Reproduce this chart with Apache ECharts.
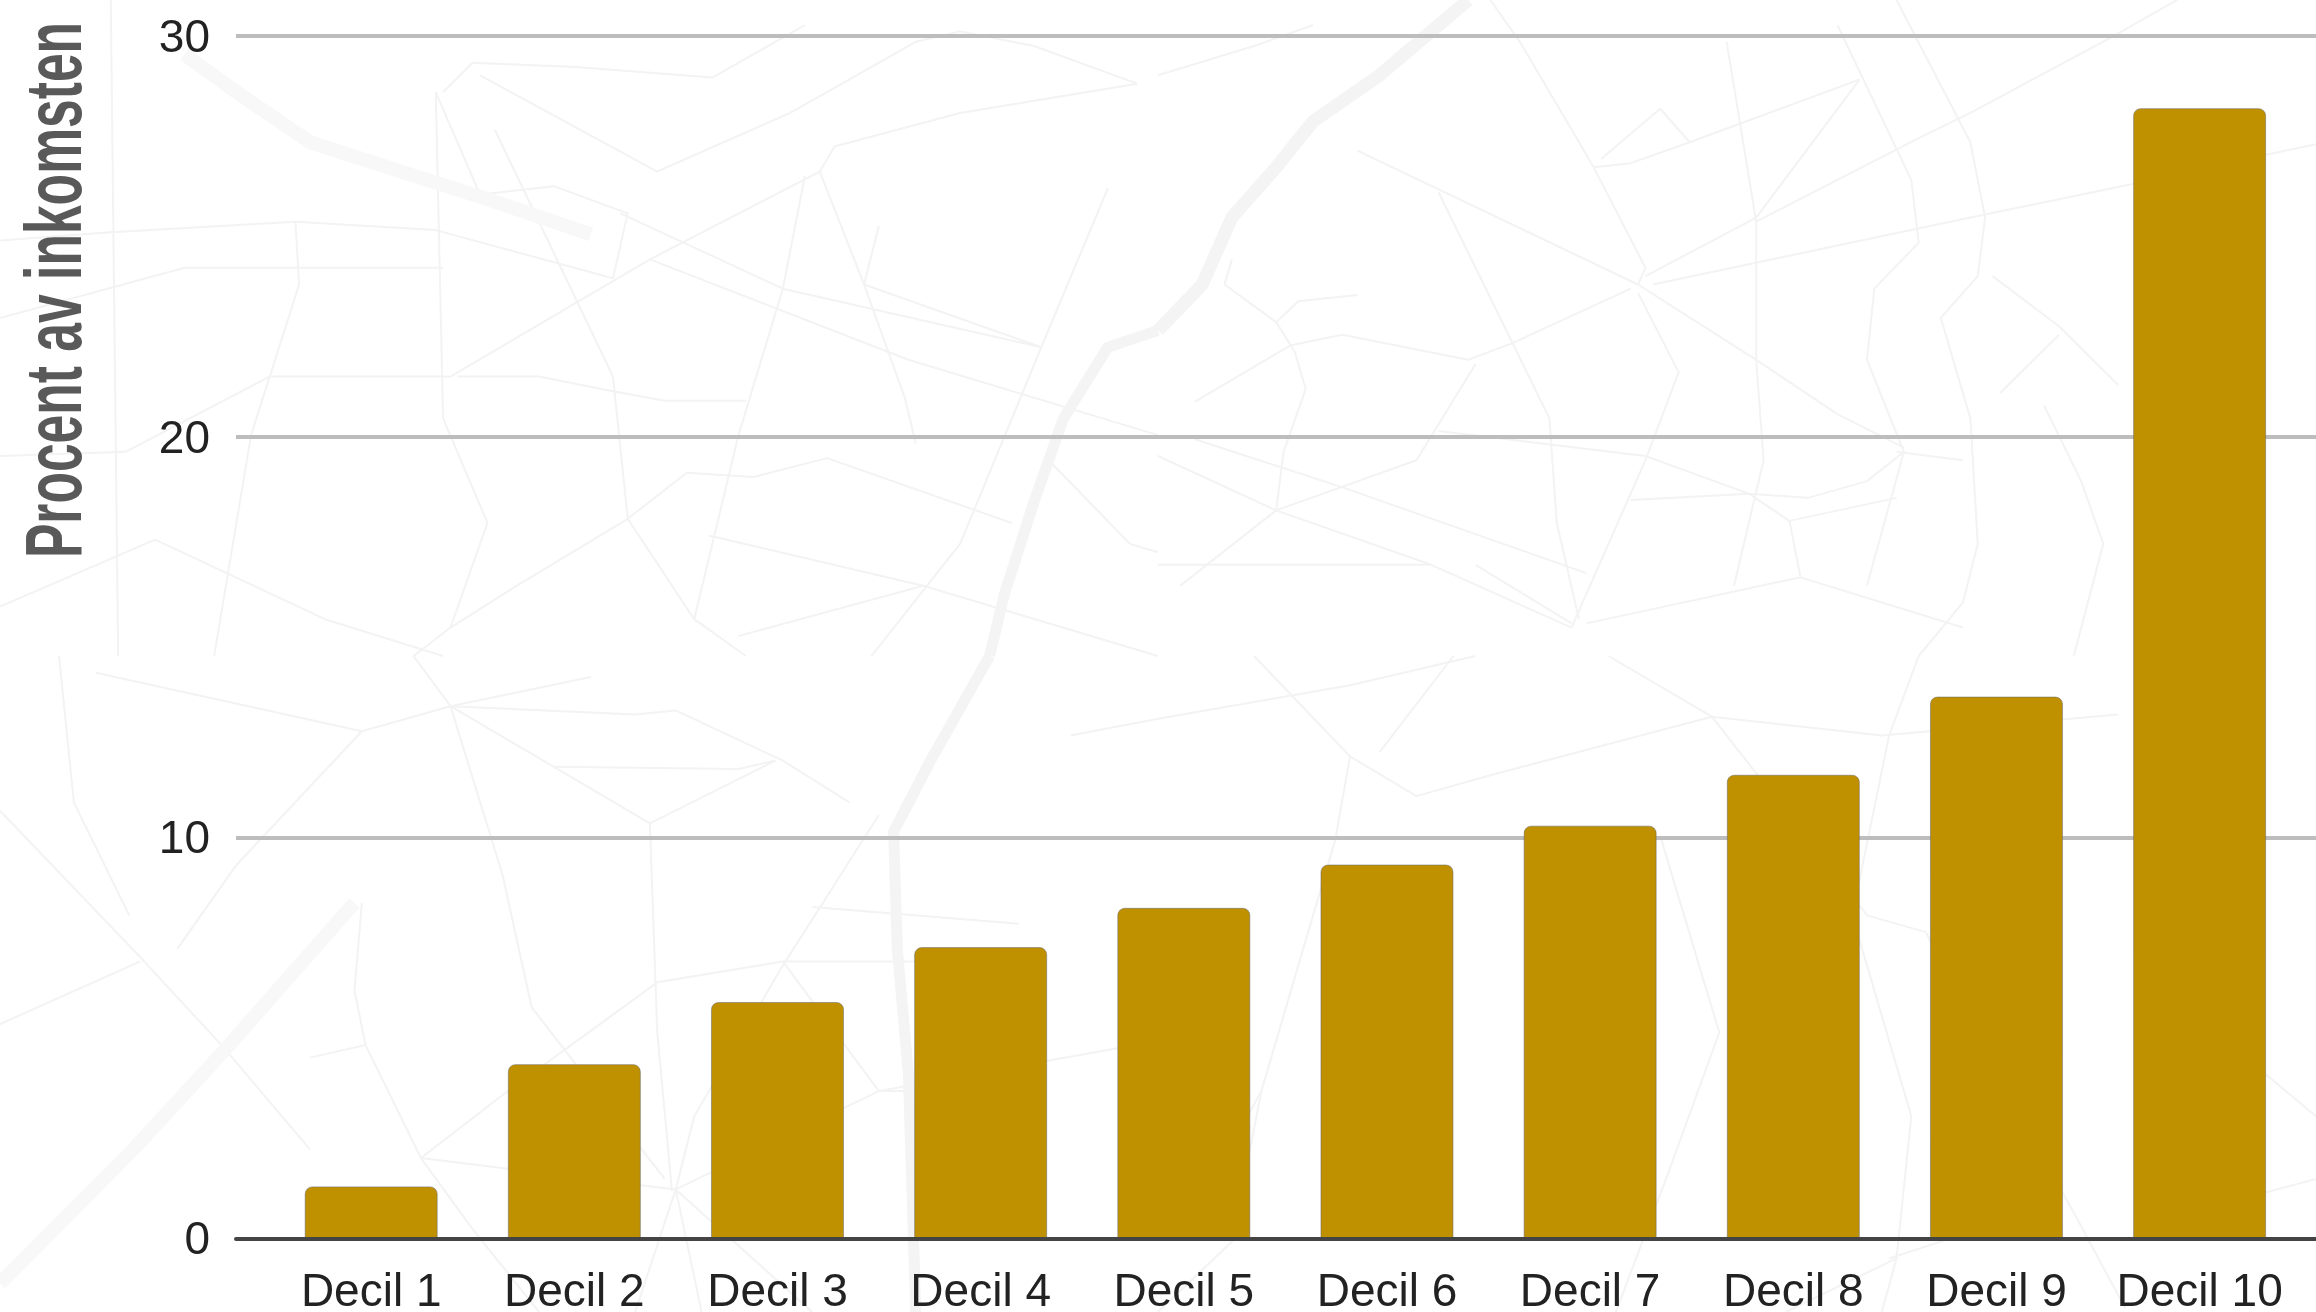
<!DOCTYPE html>
<html>
<head>
<meta charset="utf-8">
<style>
  html, body { margin: 0; padding: 0; background: #fff; }
  #chart { width: 2316px; height: 1312px; }
</style>
<script src="https://cdn.jsdelivr.net/npm/echarts@6/dist/echarts.min.js"></script>
</head>
<body>
<div id="chart"></div>
<script>
const categories = ['Decil 1', 'Decil 2', 'Decil 3', 'Decil 4', 'Decil 5', 'Decil 6', 'Decil 7', 'Decil 8', 'Decil 9', 'Decil 10']
const shareOfIncome = [1.3, 4.35, 5.9, 7.27, 8.25, 9.33, 10.3, 11.57, 13.52, 28.2]
const yTicks = [0, 10, 20, 30]
const yTitle = 'Procent av inkomsten'

const mapTopLeft = [
  [[650, 180], [890, 410], [1070, 270], [1240, 100], [1300, 75], [1400, 110], [1540, 200]],
  [[1540, 200], [1300, 270], [1130, 350], [1110, 410], [880, 620], [610, 900], [365, 900], [170, 1080], [0, 1090]],
  [[0, 575], [150, 555], [400, 530], [590, 550], [830, 665], [850, 510], [750, 445], [650, 465], [590, 220]],
  [[590, 220], [600, 1000], [660, 1250], [610, 1500], [560, 1568]],
  [[600, 220], [640, 150], [780, 160], [965, 185], [1090, 60]],
  [[840, 510], [1060, 690], [1410, 830]],
  [[880, 620], [1230, 860], [1568, 1040]],
  [[1060, 690], [1000, 1040], [940, 1480], [1010, 1568]],
  [[670, 310], [830, 900], [850, 1240], [940, 1480]],
  [[1110, 410], [1170, 680], [1225, 950], [1240, 1060]],
  [[1170, 680], [1410, 830]],
  [[1190, 540], [1170, 680]],
  [[1500, 450], [1410, 830], [1300, 1300], [1180, 1568]],
  [[1090, 420], [1060, 690]],
  [[210, 1290], [440, 1480], [600, 1568]],
  [[210, 1290], [0, 1450]],
  [[400, 530], [405, 680], [340, 1040], [290, 1568]],
  [[620, 900], [730, 900], [830, 935], [900, 958], [1010, 958]],
  [[850, 1240], [930, 1130], [1020, 1140], [1120, 1095], [1370, 1250]],
  [[960, 1280], [1250, 1400], [1568, 1568]],
  [[1250, 1400], [1000, 1520]],
  [[850, 1240], [700, 1400], [610, 1500]],
  [[1420, 1100], [1530, 1300], [1568, 1320]],
  [[150, 0], [160, 1568]],
  [[600, 640], [250, 640], [0, 760]]
]
const mapTopRight = [
  [[270, 360], [650, 680]],
  [[650, 680], [660, 640], [590, 400], [490, 100], [450, 0]],
  [[660, 660], [810, 520], [950, 190]],
  [[670, 680], [1100, 520], [1320, 440]],
  [[650, 680], [810, 860], [920, 990], [1010, 1070]],
  [[650, 700], [705, 890], [660, 1100], [560, 1500]],
  [[640, 690], [480, 820], [420, 860], [250, 800], [180, 825], [50, 960]],
  [[380, 460], [480, 820], [530, 1000], [540, 1250], [570, 1480]],
  [[590, 400], [640, 390], [720, 340], [950, 190]],
  [[720, 340], [680, 260], [600, 380]],
  [[810, 530], [770, 100]],
  [[810, 530], [810, 860], [820, 1100], [780, 1400]],
  [[920, 60], [1020, 430], [1030, 580], [970, 690], [960, 860], [1010, 1080], [960, 1400]],
  [[1000, 0], [1100, 340], [1120, 520], [1110, 660], [1060, 760], [1100, 1000], [1110, 1300], [1090, 1440], [1030, 1568]],
  [[1130, 660], [1220, 780], [1300, 920]],
  [[1140, 940], [1220, 800]],
  [[1200, 970], [1250, 1150], [1280, 1300], [1240, 1568]],
  [[1380, 0], [1290, 90], [1100, 270], [1030, 330], [810, 530]],
  [[1000, 1080], [1090, 1100]],
  [[380, 1030], [660, 1090], [800, 1180], [880, 1190], [960, 1150], [1010, 1080]],
  [[640, 1195], [800, 1180], [855, 1245], [870, 1380], [580, 1490]],
  [[855, 1245], [1000, 1190]],
  [[870, 1380], [1090, 1500]],
  [[0, 1090], [160, 1220], [370, 1350], [560, 1500]],
  [[50, 1050], [250, 1165], [580, 1370]],
  [[160, 1220], [350, 1100], [430, 870]],
  [[370, 1350], [0, 1350]],
  [[0, 180], [130, 110], [210, 60]],
  [[560, 1490], [430, 1350]],
  [[100, 620], [90, 680], [160, 770], [185, 840], [200, 930], [170, 1080], [160, 1220], [30, 1400]],
  [[160, 770], [190, 720], [270, 705]],
  [[1500, 370], [1568, 345]]
]
const mapBottomLeft = [
  [[80, 0], [100, 350], [175, 620]],
  [[0, 370], [190, 720], [300, 930], [420, 1180]],
  [[190, 730], [0, 880]],
  [[130, 40], [490, 180], [610, 120], [800, 50]],
  [[610, 120], [860, 140], [915, 130], [1060, 250], [1150, 350]],
  [[560, 0], [610, 120], [680, 520], [720, 840], [900, 1250]],
  [[610, 120], [750, 265], [880, 400], [890, 900], [910, 1280]],
  [[750, 265], [1000, 270], [1050, 250]],
  [[490, 180], [320, 500], [240, 700]],
  [[1050, 250], [880, 400]],
  [[1190, 380], [1060, 740], [940, 1100], [915, 1275]],
  [[490, 590], [480, 800], [495, 930], [570, 1200], [640, 1370], [730, 1568]],
  [[495, 930], [420, 960]],
  [[570, 1200], [915, 1275]],
  [[915, 1275], [1190, 1040], [1568, 920]],
  [[915, 1275], [860, 1568]],
  [[915, 1275], [950, 1568]],
  [[915, 1275], [1100, 1568]],
  [[570, 1200], [680, 1050], [890, 780], [1060, 730], [1250, 730]],
  [[1100, 600], [1380, 640]],
  [[1450, 190], [1568, 150]],
  [[1060, 730], [1190, 1040]],
  [[1190, 1040], [1240, 1040]]
]
const mapBottomRight = [
  [[0, 150], [260, 70], [430, 0]],
  [[750, 145], [980, 190], [1300, 140]],
  [[750, 145], [450, 285], [350, 335], [260, 240], [130, 0]],
  [[750, 145], [610, 0]],
  [[750, 145], [960, 620], [1040, 660]],
  [[260, 240], [240, 440], [140, 1040], [50, 1330]],
  [[140, 1040], [100, 1400], [0, 1568]],
  [[1030, 0], [990, 190], [940, 620], [1020, 1100], [1000, 1440], [980, 1568]],
  [[1240, 1330], [1310, 1560]],
  [[1240, 1330], [1120, 960], [1040, 660]],
  [[680, 430], [760, 900], [690, 1240], [620, 1568]],
  [[400, 0], [300, 230]],
  [[990, 1440], [1180, 1330]],
  [[1000, 1440], [850, 1568]],
  [[1420, 1320], [1568, 1250]],
  [[1500, 1000], [1568, 1100]]
]
// river and rail yards, drawn wider
const mapRiverTopLeft = [
  [[1568, 790], [1500, 830], [1440, 1000], [1400, 1200], [1360, 1420], [1340, 1568]]
]
const mapRiverTopRight = [
  [[420, 0], [300, 180], [210, 290], [160, 400], [100, 520], [60, 680], [0, 790]]
]
const mapRiverBottomLeft = [
  [[1340, 0], [1260, 250], [1210, 420], [1215, 700], [1230, 1000], [1240, 1568]]
]
const mapRailTopLeft = [
  [[250, 130], [320, 220], [420, 340], [560, 420], [650, 470], [800, 560]]
]
const mapRailBottomLeft = [
  [[0, 1500], [180, 1180], [300, 950], [480, 590]]
]

const toPolyline = (points, offsetX, offsetY, width, color) => ({
  type: 'polyline',
  silent: true,
  z: -5,
  shape: { points: points.map(p => [offsetX + p[0] * 1158 / 1568, offsetY + p[1] * 656 / 1568]) },
  style: { fill: 'none', stroke: color, lineWidth: width, lineJoin: 'round' }
})

const mapLayer = [
  ...mapTopLeft.map(s => toPolyline(s, 0, 0, 2, '#f3f3f3')),
  ...mapTopRight.map(s => toPolyline(s, 1158, 0, 2, '#f3f3f3')),
  ...mapBottomLeft.map(s => toPolyline(s, 0, 656, 2, '#f3f3f3')),
  ...mapBottomRight.map(s => toPolyline(s, 1158, 656, 2, '#f3f3f3')),
  ...mapRailTopLeft.map(s => toPolyline(s, 0, 0, 14, '#f8f8f8')),
  ...mapRailBottomLeft.map(s => toPolyline(s, 0, 656, 14, '#f8f8f8')),
  ...mapRiverTopLeft.map(s => toPolyline(s, 0, 0, 11, '#f4f4f4')),
  ...mapRiverTopRight.map(s => toPolyline(s, 1158, 0, 13, '#f4f4f4')),
  ...mapRiverBottomLeft.map(s => toPolyline(s, 0, 656, 11, '#f4f4f4'))
]

const gridTop = 36
const gridBottom = 1312 - 1238.5

const chart = echarts.init(document.getElementById('chart'))
chart.setOption({
  backgroundColor: '#fff',
  animation: false,
  graphic: [
    ...mapLayer,
    {
      type: 'text',
      x: 59,
      y: 290,
      rotation: Math.PI / 2,
      scaleX: 0.645,
      z: 10,
      style: {
        text: yTitle,
        font: 'bold 80px "Liberation Sans"',
        fill: '#595959',
        align: 'center',
        verticalAlign: 'middle'
      }
    }
  ],
  grid: [
    { left: 236, right: 0, top: gridTop, bottom: gridBottom, outerBoundsMode: 'none' },
    { left: 269.6, width: 2031.6, top: gridTop, bottom: gridBottom, outerBoundsMode: 'none' }
  ],
  xAxis: [
    {
      gridIndex: 0, type: 'category', data: categories, z: 3,
      axisLine: { lineStyle: { color: '#444', width: 4 } },
      axisTick: { show: false }, axisLabel: { show: false }
    },
    {
      gridIndex: 1, type: 'category', data: categories,
      axisLine: { show: false }, axisTick: { show: false },
      axisLabel: {
        color: '#222', fontSize: 46, fontFamily: '"Liberation Sans"',
        margin: 32, interval: 0
      }
    }
  ],
  yAxis: [
    {
      gridIndex: 0, type: 'value', min: yTicks[0], max: yTicks[yTicks.length - 1], interval: 10,
      axisLine: { show: false }, axisTick: { show: false },
      axisLabel: {
        margin: 26,
        formatter: '{tick|{value}}',
        rich: {
          tick: { color: '#222', fontSize: 46, fontFamily: '"Liberation Sans"', padding: [6, 0, 0, 0] }
        }
      },
      splitLine: { lineStyle: { color: '#bdbdbd', width: 4 } }
    },
    {
      gridIndex: 1, type: 'value', min: yTicks[0], max: yTicks[yTicks.length - 1], interval: 10,
      show: false
    }
  ],
  series: [
    {
      type: 'bar',
      xAxisIndex: 1,
      yAxisIndex: 1,
      data: shareOfIncome,
      barWidth: 133,
      itemStyle: {
        color: '#bf9000',
        borderColor: 'rgba(110,110,110,0.55)',
        borderWidth: 1,
        borderRadius: [7, 7, 0, 0]
      }
    }
  ]
})
</script>
</body>
</html>
